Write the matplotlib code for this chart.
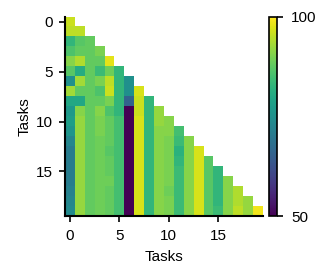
import numpy as np
import matplotlib
matplotlib.use("Agg")
import matplotlib.pyplot as plt

plt.rcParams['font.family'] = ['Liberation Sans', 'DejaVu Sans']

# accuracy (%) on task j after training on task i (lower triangle)
acc_rows = [
    [96],
    [95, 95],
    [83, 87, 88],
    [86, 88, 88, 90],
    [91, 94, 88, 88, 98],
    [87, 81, 88, 84, 89, 83],
    [75, 93, 88, 90, 95, 83, 75],
    [93, 88, 88, 86, 96, 83, 75, 97],
    [80, 80, 88, 88, 90, 83, 66, 96, 83],
    [77, 91, 88, 91, 86, 83, 50, 96, 83, 92],
    [78, 92, 88, 90, 88, 85, 50, 97, 83, 92, 91],
    [76, 92, 88, 90, 88, 85, 50, 97, 83, 91, 91, 85],
    [73, 92, 88, 89, 88, 85, 50, 97, 83, 91, 90, 84, 91],
    [71, 92, 88, 89, 87, 85, 50, 97, 83, 91, 90, 82, 91, 97],
    [71, 92, 88, 89, 88, 85, 50, 97, 83, 91, 90, 83, 91, 97, 87],
    [71, 92, 88, 89, 88, 85, 50, 97, 83, 91, 90, 84, 91, 97, 87, 83],
    [71, 92, 88, 89, 89, 85, 50, 97, 83, 91, 90, 84, 91, 97, 87, 83, 91],
    [72, 92, 88, 89, 88, 85, 50, 97, 83, 91, 89, 84, 91, 97, 87, 83, 91, 94],
    [73, 92, 88, 89, 88, 85, 50, 97, 83, 91, 90, 84, 91, 97, 87, 83, 91, 94, 92],
    [74, 92, 88, 89, 88, 85, 50, 97, 83, 91, 90, 84, 91, 97, 87, 84, 91, 95, 92, 99],
]
n_tasks = len(acc_rows)
task_ticks = [0, 5, 10, 15]

mat = np.full((n_tasks, n_tasks), np.nan)
for i, row in enumerate(acc_rows):
    mat[i, :len(row)] = row
mat = np.ma.masked_invalid(mat)

fig = plt.figure(figsize=(3.31, 2.78), dpi=100)
ax = fig.add_axes([0.196, 0.222, 0.598, 0.717])
cax = fig.add_axes([0.813, 0.222, 0.024, 0.717])

im = ax.imshow(mat, cmap='viridis', vmin=50, vmax=100, aspect='auto',
               interpolation='nearest')
ax.set_xticks(task_ticks)
ax.set_yticks(task_ticks)
ax.set_xlabel("Tasks", fontsize=11, labelpad=5)
ax.set_ylabel("Tasks", fontsize=11, labelpad=3)
ax.tick_params(labelsize=11, width=1.2, length=4, pad=5)
for s in ['top', 'right']:
    ax.spines[s].set_visible(False)
for s in ['left', 'bottom']:
    ax.spines[s].set_linewidth(1.5)

cb = fig.colorbar(im, cax=cax, ticks=[50, 100])
cb.ax.tick_params(labelsize=11, width=1.2, length=4, pad=6)
cb.outline.set_linewidth(1.2)

plt.savefig("out.png", dpi=100)
